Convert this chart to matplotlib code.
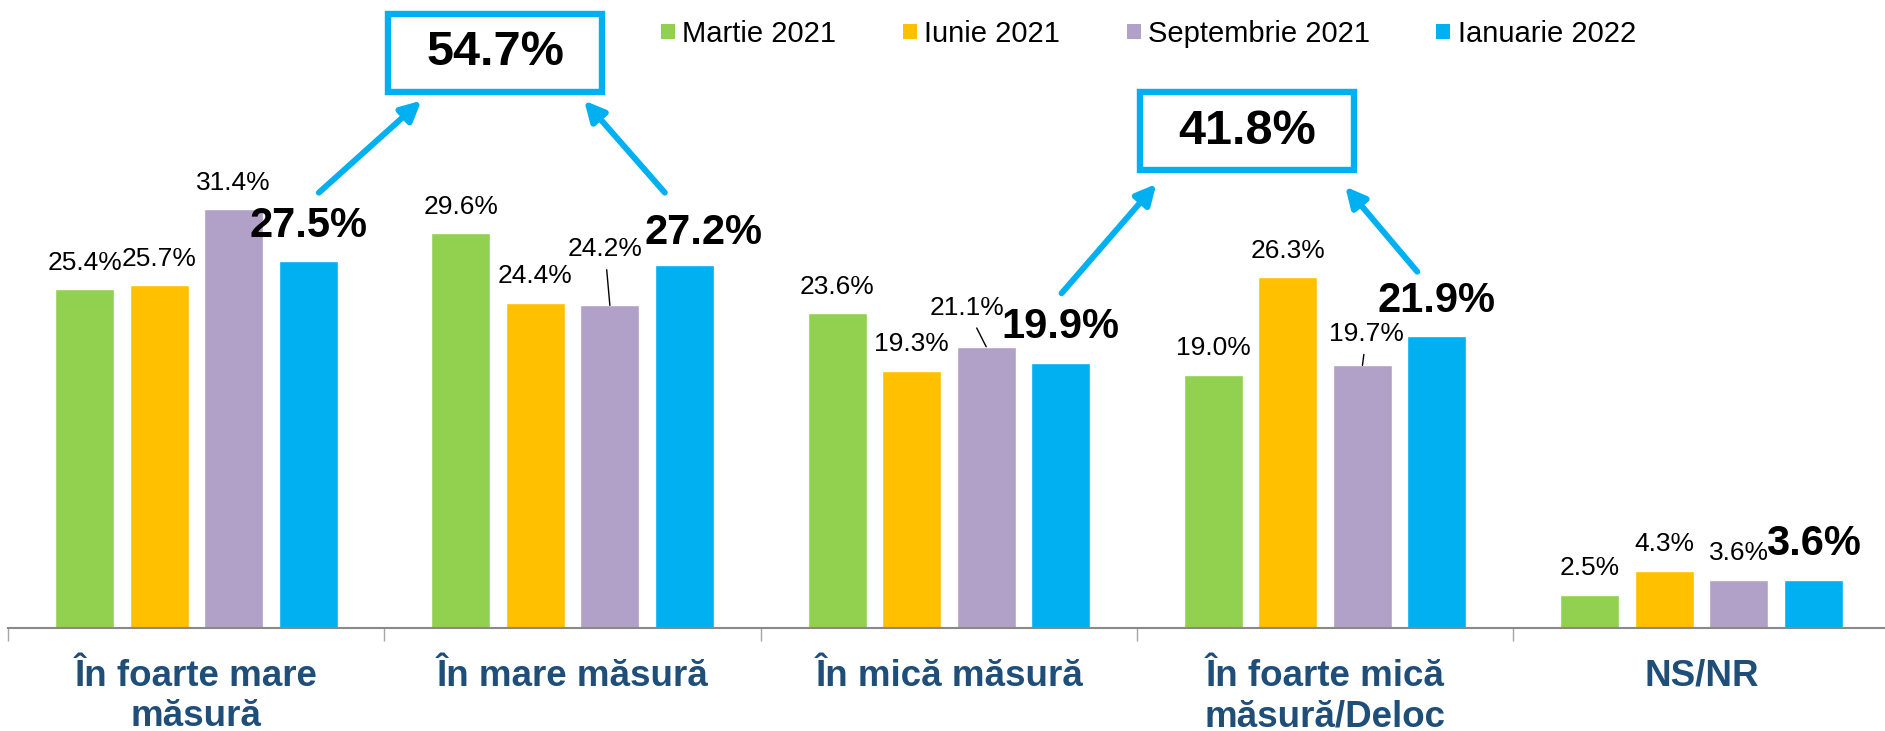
import numpy as np
import matplotlib
matplotlib.use("Agg")
import matplotlib.pyplot as plt
from matplotlib.patches import Rectangle, Patch

plt.rcParams['font.family'] = ['Liberation Sans', 'DejaVu Sans']

categories = ['În foarte mare\nmăsură', 'În mare măsură', 'În mică măsură',
              'În foarte mică\nmăsură/Deloc', 'NS/NR']
series_names = ['Martie 2021', 'Iunie 2021', 'Septembrie 2021', 'Ianuarie 2022']
martie_2021 = [25.4, 29.6, 23.6, 19.0, 2.5]
iunie_2021 = [25.7, 24.4, 19.3, 26.3, 4.3]
septembrie_2021 = [31.4, 24.2, 21.1, 19.7, 3.6]
ianuarie_2022 = [27.5, 27.2, 19.9, 21.9, 3.6]

colors = ['#92D050', '#FFC000', '#B1A0C7', '#00B0F0']
series = [martie_2021, iunie_2021, septembrie_2021, ianuarie_2022]

# hand-placed labels: (series, category) -> (dx, dy in points, leader line)
label_moves = {
    (2, 1): (-3.6, 40.3, True),
    (3, 1): (13.7, 23.0, False),
    (2, 2): (-14.0, 27.7, True),
    (2, 3): (2.9, 22.5, True),
}

fig = plt.figure(figsize=(18.85, 7.31), dpi=100)
ax = fig.add_axes([0.00435, 0.1409, 0.9981, 0.8591])

x = np.arange(len(categories))
step = 0.198
width = 0.157
for i, (vals, col) in enumerate(zip(series, colors)):
    xs = x + (i - 1.5) * step
    ax.bar(xs, vals, width, color=col, edgecolor='white', linewidth=1, zorder=2)
    last = i == len(series) - 1
    for j, (xx, v) in enumerate(zip(xs, vals)):
        dx, dy, leader = label_moves.get((i, j), (0, 25.6 if last else 19.1, False))
        arrow = dict(arrowstyle='-', color='black', lw=1, shrinkA=4, shrinkB=0) if leader else None
        ax.annotate(f'{v:.1f}%', xy=(xx, v), xytext=(dx, dy), textcoords='offset points',
                    ha='center', va='center', fontsize=30 if last else 19,
                    fontweight='bold' if last else 'normal', color='black',
                    arrowprops=arrow, annotation_clip=False)

ax.set_xlim(-0.5, 4.5)
ax.set_ylim(0, 47.11)
ax.set_xticks(x)
ax.set_xticklabels(categories, fontsize=26.5, fontweight='bold', color='#1F4E79',
                   linespacing=1.22)
ax.tick_params(axis='x', which='major', length=0, pad=22)
ax.set_xticks(np.arange(-0.5, 5, 1), minor=True)
ax.tick_params(axis='x', which='minor', length=9, width=1, color='#A6A6A6')
ax.set_yticks([])
for s in ['top', 'right', 'left']:
    ax.spines[s].set_visible(False)
ax.spines['bottom'].set_color('#898989')
ax.spines['bottom'].set_linewidth(1.5)

# sum boxes with arrows
blue = '#00B0F0'
boxes = [(0.7945, 43.16, round(ianuarie_2022[0] + ianuarie_2022[1], 1)),
         (2.792, 37.26, round(ianuarie_2022[2] + ianuarie_2022[3], 1))]
bw, bh = 0.5687, 5.85
for cx, cy, total in boxes:
    ax.add_patch(Rectangle((cx - bw / 2, cy - bh / 2), bw, bh, fill=False,
                           edgecolor=blue, linewidth=4.6, clip_on=False, zorder=3))
    ax.text(cx, cy, f'{total:.1f}%', ha='center', va='center', fontsize=35,
            fontweight='bold', color='black', zorder=4)

arrows = [((0.3257, 32.66), (0.598, 39.56)),
          ((1.245, 32.66), (1.0307, 39.56)),
          ((2.2994, 25.11), (2.5513, 33.31)),
          ((3.2446, 26.73), (3.0533, 33.11))]
for tail, tip in arrows:
    ax.annotate('', xy=tip, xytext=tail,
                arrowprops=dict(arrowstyle='-|>,head_length=0.6,head_width=0.3',
                                color=blue, lw=4.3, mutation_scale=20,
                                shrinkA=0, shrinkB=0),
                annotation_clip=False)

handles = [Patch(facecolor=c, edgecolor='none') for c in colors]
fig.legend(handles, series_names, loc='center left', bbox_to_anchor=(0.3507, 0.9535),
           bbox_transform=fig.transFigure, ncol=4, frameon=False, fontsize=21,
           handlelength=0.48, handleheight=0.45, handletextpad=0.25,
           columnspacing=2.28, borderpad=0, borderaxespad=0)

fig.savefig('out.png', dpi=100)
